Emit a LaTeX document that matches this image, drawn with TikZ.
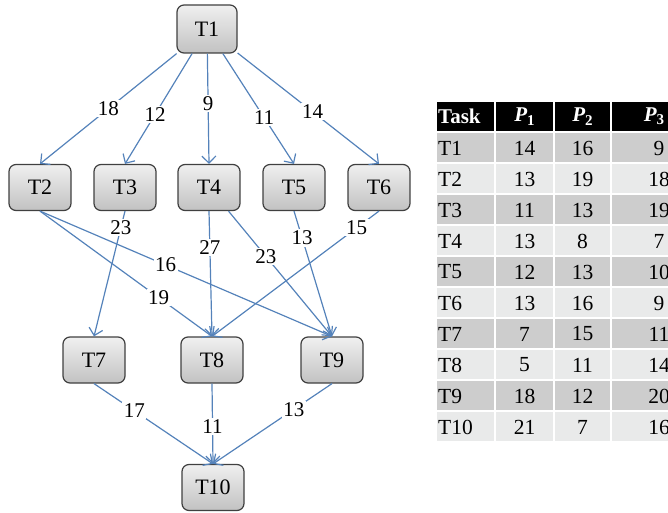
\documentclass[tikz,border=0pt]{standalone}
\usepackage{fontspec}
\setmainfont{Liberation Serif}
\usetikzlibrary{arrows.meta}
\definecolor{edgeblue}{RGB}{84,130,186}
\definecolor{rowdark}{RGB}{205,205,205}
\definecolor{rowlight}{RGB}{233,234,234}
\begin{document}
\begin{tikzpicture}[x=1pt,y=-1pt,
  task/.style={draw=black!75, line width=1.2pt, rounded corners=7pt,
    minimum width=62pt, minimum height=46pt, inner sep=0pt,
    top color=white!94!black, bottom color=black!24,
    font=\fontsize{22}{25}\selectfont},
  edge/.style={draw=edgeblue, line width=1.2pt, -{Straight Barb[length=7pt,width=14pt]}},
  lbl/.style={fill=white, inner sep=1.5pt, text=black, font=\fontsize{21}{24}\selectfont},
  cell/.style={inner sep=0pt, font=\fontsize{21.5}{24}\selectfont},
  hdr/.style={inner sep=0pt, text=white, font=\fontsize{21}{24}\selectfont\bfseries},
]
\useasboundingbox (0,0) rectangle (668,513);

% task nodes
\node[task, minimum width=60pt, minimum height=48pt] (T1) at (207,29) {T1};
\node[task] (T2) at (40,187.5) {T2};
\node[task] (T3) at (125,187.5) {T3};
\node[task] (T4) at (209,187.5) {T4};
\node[task] (T5) at (294,187.5) {T5};
\node[task] (T6) at (379,187.5) {T6};
\node[task] (T7) at (94,360) {T7};
\node[task] (T8) at (212,360) {T8};
\node[task] (T9) at (332,360) {T9};
\node[task] (T10) at (213,487.5) {T10};

% edges
\draw[edge] (T1) -- node[lbl,pos=0.5]{18} (T2.north);
\draw[edge] (T1) -- node[lbl,pos=0.55]{12} (T3.north);
\draw[edge] (T1) -- node[lbl,pos=0.45]{9} (T4.north);
\draw[edge] (T1) -- node[lbl,pos=0.58]{11} (T5.north);
\draw[edge] (T1) -- node[lbl,pos=0.53]{14} (T6.north);

\draw[edge] (T2.south) -- node[lbl,pos=0.69]{19} (T8.north);
\draw[edge] (T2.south) -- node[lbl,pos=0.43]{16} (T9.north);
\draw[edge] (T3.south) -- node[lbl,pos=0.13]{23} (T7.north);
\draw[edge] (T4.south) -- node[lbl,pos=0.29]{27} (T8.north);
\draw[edge] (T4) -- node[lbl,pos=0.36]{23} (T9.north);
\draw[edge] (T5.south) -- node[lbl,pos=0.215]{13} (T9.north);
\draw[edge] (T6.south) -- node[lbl,pos=0.134]{15} (T8.north);

\draw[edge] (T7.south) -- node[lbl,pos=0.34]{17} (T10.north);
\draw[edge] (T8.south) -- node[lbl,pos=0.53]{11} (T10.north);
\draw[edge] (T9.south) -- node[lbl,pos=0.32]{13} (T10.north);

% table
\begin{scope}
\clip (0,0) rectangle (668,513);
\fill[black] (437,102) rectangle (494,131);
\fill[black] (496,102) rectangle (553,131);
\fill[black] (555,102) rectangle (610,131);
\fill[black] (612,102) rectangle (700,131);
\node[hdr, anchor=west] (hTask) at (438,116.5) {Task};
\node[hdr] (hP1) at (524.5,116.5) {\itshape P\upshape\raisebox{-0.35ex}{\fontsize{15}{15}\selectfont 1}};
\node[hdr] (hP2) at (582.5,116.5) {\itshape P\upshape\raisebox{-0.35ex}{\fontsize{15}{15}\selectfont 2}};
\node[hdr] (hP3) at (654,116.5) {\itshape P\upshape\raisebox{-0.35ex}{\fontsize{15}{15}\selectfont 3}};
\foreach \i/\t/\a/\b/\c/\col in {1/T1/14/16/9/rowdark, 2/T2/13/19/18/rowlight,
    3/T3/11/13/19/rowdark, 4/T4/13/8/7/rowlight, 5/T5/12/13/10/rowdark,
    6/T6/13/16/9/rowlight, 7/T7/7/15/11/rowdark, 8/T8/5/11/14/rowlight,
    9/T9/18/12/20/rowdark, 10/T10/21/7/16/rowlight} {
  \pgfmathsetmacro\rt{133+(\i-1)*31}
  \fill[\col] (437,\rt) rectangle (494,\rt+29);
  \fill[\col] (496,\rt) rectangle (553,\rt+29);
  \fill[\col] (555,\rt) rectangle (610,\rt+29);
  \fill[\col] (612,\rt) rectangle (700,\rt+29);
  \node[cell, anchor=west] (c0r\i) at (438,\rt+15) {\t};
  \node[cell] (c1r\i) at (524.5,\rt+15) {\a};
  \node[cell] (c2r\i) at (582.5,\rt+15) {\b};
  \node[cell] (c3r\i) at (659,\rt+15) {\c};
}
\end{scope}
\end{tikzpicture}
\end{document}
